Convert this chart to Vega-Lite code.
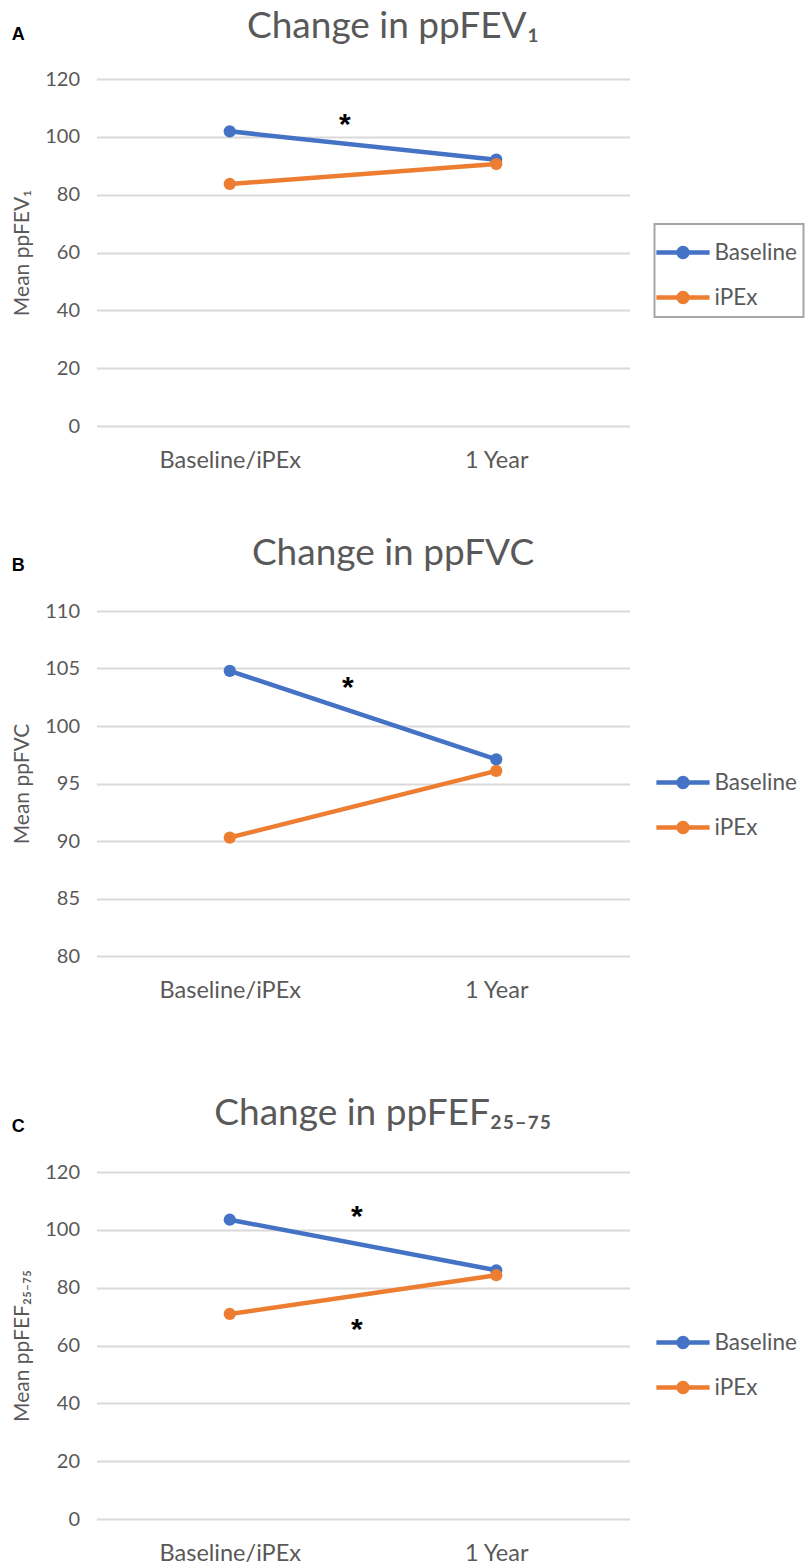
{
  "$schema": "https://vega.github.io/schema/vega-lite/v6.json",
  "background": "white",
  "padding": {"left": 11.5, "top": 8, "right": 0, "bottom": 0},
  "config": {
    "view": {"stroke": null},
    "font": "Lato",
    "axis": {"domain": false, "ticks": false, "labelColor": "#595959", "titleColor": "#595959", "labelFont": "Lato", "titleFont": "Lato", "titleFontWeight": "normal"},
    "axisY": {"grid": true, "gridColor": "#d9d9d9", "gridWidth": 2, "labelFontSize": 20, "labelPadding": 17, "titleFontSize": 21, "titlePadding": 12},
    "axisX": {"grid": false, "labelFontSize": 23.5, "labelPadding": 22, "labelAngle": 0},
    "title": {"font": "Lato", "fontSize": 37, "fontWeight": "normal", "color": "#595959"},
    "legend": {"orient": "none", "legendX": 558, "title": null, "symbolType": "M-1.33,0L1.33,0M-0.22,0A0.22,0.22,0,1,0,0.22,0A0.22,0.22,0,1,0,-0.22,0", "symbolSize": 1600, "symbolStrokeWidth": 4.5, "labelFontSize": 22.5, "labelFont": "Lato", "labelColor": "#595959", "labelOffset": 9, "rowPadding": 9, "padding": 6}
  },
  "spacing": 93,
  "resolve": {"scale": {"color": "independent", "x": "independent", "y": "independent"}, "legend": {"color": "independent"}, "axis": {"x": "independent", "y": "independent"}},
  "vconcat": [
    {
      "spacing": 63,
      "resolve": {"scale": {"color": "independent", "x": "independent", "y": "independent"}, "legend": {"color": "independent"}, "axis": {"x": "independent", "y": "independent"}},
      "vconcat": [
        {
          "title": {"text": "A", "anchor": "start", "frame": "bounds", "font": "Liberation Sans", "fontSize": 18, "fontWeight": "bold", "color": "#000000", "offset": -36},
          "resolve": {"scale": {"color": "independent"}, "legend": {"color": "independent"}},
          "vconcat": [
            {
              "width": 533, "height": 347,
              "title": {"text": "Change in ppFEV₁", "anchor": "middle", "dx": 30, "offset": 23},
              "data": {"values": [
                {"time": "Baseline/iPEx", "group": "Baseline", "mean": 101.9},
                {"time": "1 Year", "group": "Baseline", "mean": 92.1},
                {"time": "Baseline/iPEx", "group": "iPEx", "mean": 83.7},
                {"time": "1 Year", "group": "iPEx", "mean": 90.6}
              ]},
              "encoding": {
                "x": {"field": "time", "type": "nominal", "sort": ["Baseline/iPEx", "1 Year"], "scale": {"type": "point", "padding": 0.5}, "axis": {"title": null}},
                "y": {"field": "mean", "type": "quantitative", "scale": {"domain": [0, 120], "nice": false}, "axis": {"values": [0, 20, 40, 60, 80, 100, 120], "title": "Mean ppFEV₁"}}
              },
              "layer": [
                {"mark": {"type": "line", "strokeWidth": 4.5}, "encoding": {"color": {"field": "group", "type": "nominal", "scale": {"domain": ["Baseline", "iPEx"], "range": ["#4472C4", "#ED7D31"]}, "legend": {"legendY": 145, "strokeColor": "#a6a6a6", "labelExpr": "datum.label + '      '", "encode": {"legend": {"update": {"strokeWidth": {"value": 2}}}}}}}},
                {"mark": {"type": "point", "filled": true, "size": 150, "opacity": 1}, "encoding": {"color": {"field": "group", "type": "nominal", "scale": {"domain": ["Baseline", "iPEx"], "range": ["#4472C4", "#ED7D31"]}}}},
                {"data": {"values": [{"time": "Baseline/iPEx", "mean": 104, "sig": "*"}]}, "mark": {"type": "text", "dx": 115, "fontSize": 30, "fontWeight": "bold", "color": "#000000", "font": "Liberation Sans"}, "encoding": {"text": {"field": "sig"}}}
              ]
            }
          ]
        },
        {
          "title": {"text": "B", "anchor": "start", "frame": "bounds", "font": "Liberation Sans", "fontSize": 18, "fontWeight": "bold", "color": "#000000", "offset": -40},
          "resolve": {"scale": {"color": "independent"}, "legend": {"color": "independent"}},
          "vconcat": [
            {
              "width": 533, "height": 345,
              "title": {"text": "Change in ppFVC", "anchor": "middle", "dx": 30, "offset": 28},
              "data": {"values": [
                {"time": "Baseline/iPEx", "group": "Baseline", "mean": 104.8},
                {"time": "1 Year", "group": "Baseline", "mean": 97.1},
                {"time": "Baseline/iPEx", "group": "iPEx", "mean": 90.3},
                {"time": "1 Year", "group": "iPEx", "mean": 96.1}
              ]},
              "encoding": {
                "x": {"field": "time", "type": "nominal", "sort": ["Baseline/iPEx", "1 Year"], "scale": {"type": "point", "padding": 0.5}, "axis": {"title": null}},
                "y": {"field": "mean", "type": "quantitative", "scale": {"domain": [80, 110], "nice": false, "zero": false}, "axis": {"values": [80, 85, 90, 95, 100, 105, 110], "title": "Mean ppFVC"}}
              },
              "layer": [
                {"mark": {"type": "line", "strokeWidth": 4.5}, "encoding": {"color": {"field": "group", "type": "nominal", "scale": {"domain": ["Baseline", "iPEx"], "range": ["#4472C4", "#ED7D31"]}, "legend": {"legendY": 143}}}},
                {"mark": {"type": "point", "filled": true, "size": 150, "opacity": 1}, "encoding": {"color": {"field": "group", "type": "nominal", "scale": {"domain": ["Baseline", "iPEx"], "range": ["#4472C4", "#ED7D31"]}}}},
                {"data": {"values": [{"time": "Baseline/iPEx", "mean": 103.3, "sig": "*"}]}, "mark": {"type": "text", "dx": 118, "fontSize": 30, "fontWeight": "bold", "color": "#000000", "font": "Liberation Sans"}, "encoding": {"text": {"field": "sig"}}}
              ]
            }
          ]
        }
      ]
    },
    {
      "title": {"text": "C", "anchor": "start", "frame": "bounds", "font": "Liberation Sans", "fontSize": 18, "fontWeight": "bold", "color": "#000000", "offset": -41},
      "resolve": {"scale": {"color": "independent"}, "legend": {"color": "independent"}},
      "vconcat": [
        {
          "width": 533, "height": 347,
          "title": {"text": "Change in ppFEF₂₅₋₇₅", "anchor": "middle", "dx": 20, "offset": 29},
          "data": {"values": [
            {"time": "Baseline/iPEx", "group": "Baseline", "mean": 103.5},
            {"time": "1 Year", "group": "Baseline", "mean": 86.0},
            {"time": "Baseline/iPEx", "group": "iPEx", "mean": 70.9},
            {"time": "1 Year", "group": "iPEx", "mean": 84.3}
          ]},
          "encoding": {
            "x": {"field": "time", "type": "nominal", "sort": ["Baseline/iPEx", "1 Year"], "scale": {"type": "point", "padding": 0.5}, "axis": {"title": null}},
            "y": {"field": "mean", "type": "quantitative", "scale": {"domain": [0, 120], "nice": false}, "axis": {"values": [0, 20, 40, 60, 80, 100, 120], "title": "Mean ppFEF₂₅₋₇₅"}}
          },
          "layer": [
            {"mark": {"type": "line", "strokeWidth": 4.5}, "encoding": {"color": {"field": "group", "type": "nominal", "scale": {"domain": ["Baseline", "iPEx"], "range": ["#4472C4", "#ED7D31"]}, "legend": {"legendY": 142}}}},
            {"mark": {"type": "point", "filled": true, "size": 150, "opacity": 1}, "encoding": {"color": {"field": "group", "type": "nominal", "scale": {"domain": ["Baseline", "iPEx"], "range": ["#4472C4", "#ED7D31"]}}}},
            {"data": {"values": [{"time": "Baseline/iPEx", "mean": 104.3, "sig": "*"}, {"time": "Baseline/iPEx", "mean": 65.4, "sig": "*"}]}, "mark": {"type": "text", "dx": 127, "fontSize": 30, "fontWeight": "bold", "color": "#000000", "font": "Liberation Sans"}, "encoding": {"text": {"field": "sig"}}}
          ]
        }
      ]
    }
  ]
}
